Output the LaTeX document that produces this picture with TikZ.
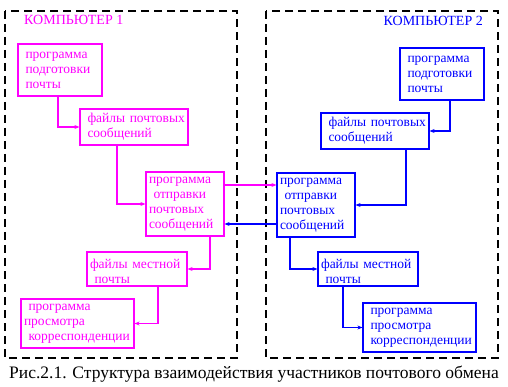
\documentclass[tikz,border=0pt]{standalone}
\usepackage{fontspec}
\setmainfont{Liberation Serif}
\usetikzlibrary{arrows.meta}

\definecolor{magline}{RGB}{255,0,255}
\definecolor{blueline}{RGB}{0,0,255}

\tikzset{
    mbox/.style={draw=magline, text=magline, line width=1.2pt, align=left, inner xsep=3pt, inner ysep=0pt, font=\fontsize{13.5}{15}\selectfont},
    bbox/.style={draw=blueline, text=blueline, line width=1.2pt, align=left, inner xsep=3pt, inner ysep=0pt, font=\fontsize{13.5}{15}\selectfont},
    mflow/.style={draw=magline, line width=1.2pt, -{Stealth[length=5pt,width=4pt]}},
    bflow/.style={draw=blueline, line width=1.2pt, -{Stealth[length=5pt,width=4pt]}},
    frame/.style={draw=black, line width=1.2pt, dash pattern=on 8pt off 5pt}
}

\begin{document}
\begin{tikzpicture}[x=1pt,y=-1pt]

    \useasboundingbox (0,0) rectangle (508,387);

    % Frames
    \draw[frame] (5,11) rectangle (237,358);
    \draw[frame] (266,11) rectangle (498,358);
    \node[text=magline, anchor=west, inner sep=0pt, font=\fontsize{14}{15}\selectfont] (title1) at (24,20) {КОМПЬЮТЕР 1};
    \node[text=blueline, anchor=east, inner sep=0pt, font=\fontsize{14}{15}\selectfont] (title2) at (483,21) {КОМПЬЮТЕР 2};

    % Computer 1
    \node[mbox, minimum width=84pt, minimum height=52pt, text width=78pt] (prep1) at (60,70) {\ программа\\\ подготовки\\\ почты};
    \node[mbox, minimum width=108pt, minimum height=36pt, text width=102pt] (files1) at (134,127) {\ файлы~почтовых\\\ сообщений};
    \node[mbox, minimum width=78pt, minimum height=64pt, text width=72pt] (send1) at (185,204) {программа\\\ отправки\\почтовых\\сообщений};
    \node[mbox, minimum width=100pt, minimum height=34pt, text width=94pt] (local1) at (137,269) {\ файлы~местной\\\ почты};
    \node[mbox, minimum width=113pt, minimum height=49pt, text width=107pt] (view1) at (77.5,323.5) {\ программа\\просмотра\\\ корреспонденции};

    % Computer 2
    \node[bbox, minimum width=84pt, minimum height=52pt, text width=78pt] (prep2) at (442,74) {\ программа\\\ подготовки\\\ почты};
    \node[bbox, minimum width=108pt, minimum height=36pt, text width=102pt] (files2) at (375,131) {\ файлы~почтовых\\\ сообщений};
    \node[bbox, minimum width=78pt, minimum height=64pt, text width=72pt] (send2) at (316,205) {программа\\\ отправки\\почтовых\\сообщений};
    \node[bbox, minimum width=100pt, minimum height=34pt, text width=94pt] (local2) at (368,269) {\ файлы~местной\\\ почты};
    \node[bbox, minimum width=113pt, minimum height=49pt, text width=107pt] (view2) at (419.5,327.5) {\ программа\\\ просмотра\\\ корреспонденции};

    % Connectors 1
    \draw[mflow] ([xshift=-2pt]prep1.south) |- (files1.west);
    \draw[mflow] ([xshift=-17pt]files1.south) |- (send1.west);
    \draw[mflow] ([xshift=25pt]send1.south) |- (local1.east);
    \draw[mflow] ([xshift=21pt]local1.south) |- (view1.east);

    % Exchange
    \draw[mflow] ([yshift=19pt]send1.east) -- ([yshift=20pt]send2.west);
    \draw[bflow] ([yshift=-19pt]send2.west) -- ([yshift=-20pt]send1.east);

    % Connectors 2
    \draw[bflow] ([xshift=8pt]prep2.south) |- (files2.east);
    \draw[bflow] ([xshift=31pt]files2.south) |- (send2.east);
    \draw[bflow] ([xshift=-26pt]send2.south) |- (local2.west);
    \draw[bflow] ([xshift=-25pt]local2.south) |- (view2.west);

    % Caption
    \node[font=\fontsize{17.5}{19}\selectfont, inner sep=0pt] (caption) at (254,374) {Рис.2.1. Структура взаимодействия участников почтового обмена};

\end{tikzpicture}
\end{document}
